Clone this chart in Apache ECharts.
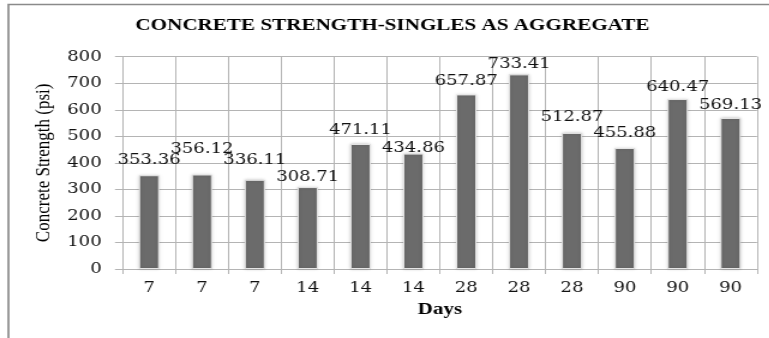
<!DOCTYPE html>
<html>
<head>
<meta charset="utf-8">
<script src="https://cdn.jsdelivr.net/npm/echarts@6/dist/echarts.min.js"></script>
<style>
  html, body { margin: 0; padding: 0; background: #fff; overflow: hidden; }
  /* chart is laid out narrower and widened horizontally, giving the wide lettering */
  #chart { width: 641px; height: 338px; transform: scaleX(1.2); transform-origin: 0 0; }
</style>
</head>
<body>
<div id="chart"></div>
<script>
// Curing age of each specimen (days)
const days = ['7', '7', '7', '14', '14', '14', '28', '28', '28', '90', '90', '90'];
// Compressive strength of each specimen (psi)
const strength = [353.36, 356.12, 336.11, 308.71, 471.11, 434.86, 657.87, 733.41, 512.87, 455.88, 640.47, 569.13];
// Value axis ticks
const yTicks = { min: 0, max: 800, step: 100 };

// Gap between each bar top and its value label
const labelLift = [8, 18, 12, 2, 6, -2, 6, 3, 8, 7, 4, 5];

const numFont = 'DejaVu Serif';
const textFont = 'Liberation Serif';
const gridColor = '#b4b4b4';
const inkColor = '#111';

const chart = echarts.init(document.getElementById('chart'), null, { renderer: 'canvas' });

chart.setOption({
  backgroundColor: '#ffffff',
  animation: false,
  title: {
    text: 'CONCRETE STRENGTH-SINGLES AS AGGREGATE',
    left: 327,
    textAlign: 'center',
    top: 16,
    padding: 0,
    textStyle: { fontFamily: textFont, fontWeight: 'bold', fontSize: 17.6, color: '#000' }
  },
  graphic: [{
    type: 'polyline',
    shape: { points: [[7, 400], [7, 4.5], [700, 4.5]] },
    style: { stroke: '#8a8a8a', lineWidth: 1.7, fill: null },
    silent: true
  }],
  grid: { left: 102.2, right: 10.2, top: 56.7, bottom: 69, containLabel: false },
  xAxis: {
    type: 'category',
    data: days,
    boundaryGap: true,
    name: 'Days',
    nameLocation: 'middle',
    nameGap: 31,
    nameTextStyle: { fontFamily: textFont, fontWeight: 'bold', fontSize: 17.5, color: '#000' },
    axisLine: { lineStyle: { color: gridColor, width: 1 } },
    axisTick: { show: true, interval: 0, length: 5, lineStyle: { color: gridColor } },
    axisLabel: { interval: 0, margin: 12, fontFamily: numFont, fontSize: 15, color: inkColor },
    splitLine: { show: true, interval: 0, lineStyle: { color: gridColor, width: 1 } }
  },
  yAxis: {
    type: 'value',
    min: yTicks.min,
    max: yTicks.max,
    interval: yTicks.step,
    name: 'Concrete Strength (psi)',
    nameLocation: 'middle',
    nameGap: 52,
    nameTextStyle: { fontFamily: textFont, fontSize: 17, color: '#000' },
    axisLine: { show: true, lineStyle: { color: gridColor, width: 1 } },
    axisTick: { show: true, length: 6.4, lineStyle: { color: gridColor } },
    axisLabel: { margin: 17.5, fontFamily: numFont, fontSize: 15, color: inkColor },
    splitLine: { show: true, lineStyle: { color: gridColor, width: 1 } }
  },
  series: [{
    type: 'bar',
    barWidth: 17,
    data: strength.map((v, i) => ({ value: v, label: { distance: labelLift[i] } })),
    itemStyle: {
      color: '#6b6b6b',
      borderColor: '#e6e6e6',
      borderWidth: 1,
      shadowBlur: 3,
      shadowColor: 'rgba(0,0,0,0.18)'
    },
    label: {
      show: true,
      position: 'top',
      fontFamily: numFont,
      fontSize: 15,
      color: inkColor,
      formatter: p => p.value.toFixed(2)
    }
  }]
});
</script>
</body>
</html>
